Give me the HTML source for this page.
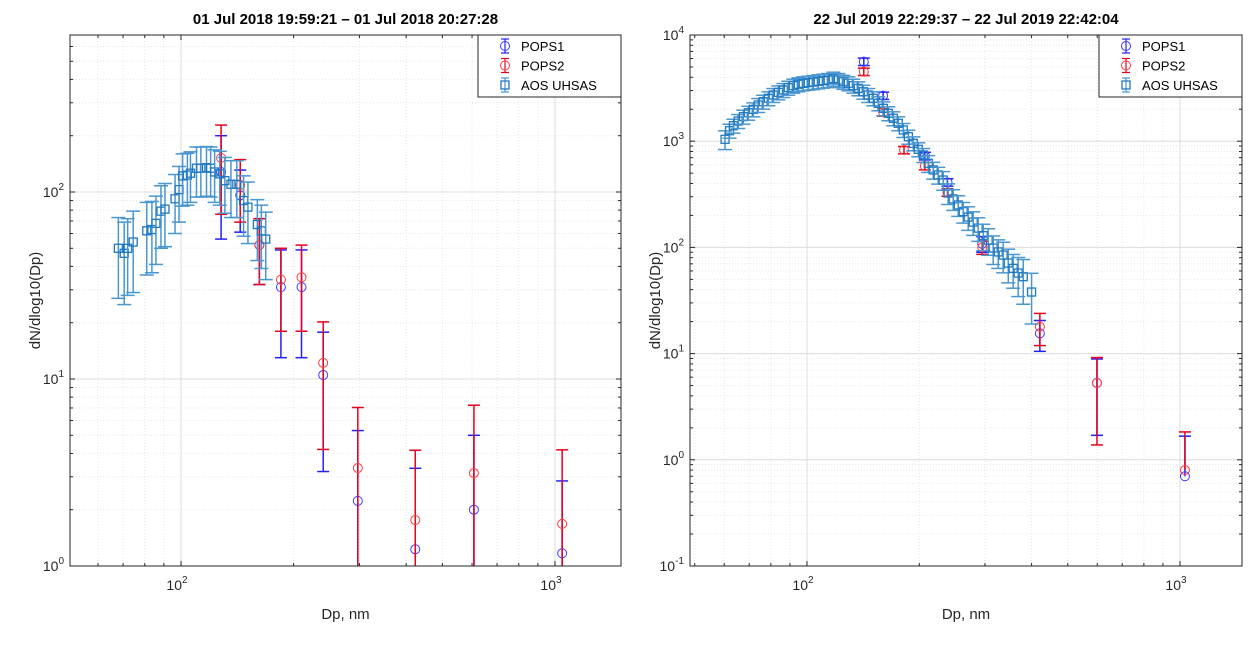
<!DOCTYPE html>
<html><head><meta charset="utf-8">
<style>
body{margin:0;background:#fff;width:1260px;height:640px;overflow:hidden;font-family:"Liberation Sans",sans-serif;}
svg text{font-family:"Liberation Sans",sans-serif;}
</style></head>
<body>
<svg id="fig" width="1260" height="640" viewBox="0 0 1260 640" xmlns="http://www.w3.org/2000/svg"></svg>
<script>
// ---- Left panel data ----
const L_pops1_dp = [128,144,162,185,210,240,297,423,607,1045];
const L_pops1_y  = [128,96,52,31,31,10.5,2.23,1.23,2.0,1.17];
const L_pops1_s  = [72,35,20,18,18,7.3,3.07,2.1,3.0,1.68];
const L_pops2_dp = [128,144,162,185,210,240,297,423,607,1045];
const L_pops2_y  = [152,109,52,34,35,12.2,3.34,1.76,3.14,1.68];
const L_pops2_s  = [76,40,20,16,17,8,3.7,2.4,4.1,2.5];
const L_uh_dp = [68,70.5,72,74.5,81,83.6,85.7,88.4,90.6,96.4,98.8,101,104,106,110,113,117,120,123,127,131,136,141,147,151,160,164,168.5];
const L_uh_y  = [50,47,50,54,62,63,68,79,81,92,103,122,123,126,134,134,135,134,128,125,115,110,110,90,83,67,62,56];
const L_uh_s  = [23,22,22,25,26,26,27,29,30,32,34,38,38,38,40,40,40,40,40,40,38,37,37,32,30,24,23,22];
// ---- Right panel data ----
const R_pops1_dp = [142,160,207,238,295,421,599,1031];
const R_pops1_y  = [5610,2685,726,410,108,15.5,5.3,0.70];
const R_pops1_s  = [450,210,60,33,18,5,3.6,0.97];
const R_pops1_lo = [450,210,60,33,18,5,3.6,0];
const R_pops2_dp = [142,182,160,207,238,295,421,599,1031];
const R_pops2_y  = [4515,826,1871,584,330,100,17.9,5.28,0.80];
const R_pops2_s  = [360,65,150,47,27,14,6,3.9,1.03];
const R_pops2_lo = [360,65,150,47,27,14,6,3.9,0];
const R_uh_dp = [60.3,62.0,63.5,65.4,67.5,69.6,71.8,74.0,76.3,78.8,81.2,83.8,86.4,89.1,91.9,94.8,97.7,100.8,104,107.2,110.6,114,117.7,121.4,125.1,129.1,133.1,137.3,141.6,146,150.6,155.3,160.2,165.2,170.4,175.7,181.2,187,192.8,198.8,205,211.4,218,224.8,231.8,239,246.6,254.4,262.3,270.5,279,287.7,296.9,306,315.6,325.6,335.7,346.4,357.1,368.3,380,400];
const R_uh_y  = [1042,1256,1400,1549,1702,1854,1995,2193,2355,2535,2723,2884,3034,3190,3334,3436,3508,3556,3606,3664,3715,3767,3881,3767,3631,3508,3334,3148,2924,2723,2535,2275,2040,1832,1644,1475,1275,1102,955,839,741,620,536,481,431,325,286,251,217,193,173,152,129,117,98.6,90.6,84.7,71.3,63.5,57.4,53,38];
const R_uh_rel = [0.2,0.15,0.15,0.15,0.15,0.15,0.15,0.15,0.15,0.15,0.15,0.15,0.15,0.15,0.15,0.15,0.15,0.15,0.15,0.15,0.15,0.15,0.15,0.15,0.15,0.15,0.15,0.15,0.15,0.15,0.15,0.15,0.15,0.15,0.15,0.15,0.15,0.15,0.15,0.15,0.15,0.18,0.18,0.18,0.2,0.22,0.22,0.22,0.22,0.25,0.25,0.25,0.28,0.28,0.3,0.3,0.32,0.35,0.35,0.4,0.45,0.5];

const NS="http://www.w3.org/2000/svg";
const svg=document.getElementById('fig');
function el(tag,attrs,parent){const e=document.createElementNS(NS,tag);for(const k in attrs)e.setAttribute(k,attrs[k]);(parent||svg).appendChild(e);return e;}

function panel(cfg){
  const g=el('g',{});
  
  
  const {x0,x1,y0,y1,xmin,xmax,ymin,ymax}=cfg;
  const sx=v=>x0+(Math.log10(v)-Math.log10(xmin))/(Math.log10(xmax)-Math.log10(xmin))*(x1-x0);
  const sy=v=>y1-(Math.log10(v)-Math.log10(ymin))/(Math.log10(ymax)-Math.log10(ymin))*(y1-y0);
  el('rect',{x:x0,y:y0,width:x1-x0,height:y1-y0,fill:'#fff'},g);
  const cid='clip'+cfg.name;
  const cp=el('clipPath',{id:cid},g);el('rect',{x:x0,y:y0,width:x1-x0,height:y1-y0},cp);
  const grid=el('g',{},g);
  
  
  for(let d=Math.floor(Math.log10(xmin));d<=Math.ceil(Math.log10(xmax));d++){
    for(let m=1;m<10;m++){const v=m*Math.pow(10,d);if(v<=xmin||v>=xmax)continue;const px=sx(v);
      if(m===1){el('line',{x1:px,y1:y0,x2:px,y2:y1,stroke:'#dcdcdc','stroke-width':1},grid);}
      else el('line',{x1:px,y1:y0,x2:px,y2:y1,stroke:'#e6e6e6','stroke-width':1,'stroke-dasharray':'1,2'},grid);}
  }
  const dmin=Math.round(Math.log10(ymin)), dmax=Math.floor(Math.log10(ymax)+1e-9);
  for(let d=dmin;d<=dmax+1;d++){
    for(let m=1;m<10;m++){const v=m*Math.pow(10,d);if(v<ymin*0.999||v>ymax*1.001)continue;const py=sy(v);
      if(m===1){el('line',{x1:x0,y1:py,x2:x1,y2:py,stroke:'#dcdcdc','stroke-width':1},grid);}
      else el('line',{x1:x0,y1:py,x2:x1,y2:py,stroke:'#e6e6e6','stroke-width':1,'stroke-dasharray':'1,2'},grid);}
  }
  for(let d=dmin;d<=dmax+1;d++){
    for(let m=1;m<10;m++){const v=m*Math.pow(10,d);if(v<ymin*0.999||v>ymax*1.001)continue;const py=sy(v);const len=m===1?5:3;
      el('line',{x1:x0,y1:py,x2:x0+len,y2:py,stroke:'#262626'},g);el('line',{x1:x1,y1:py,x2:x1-len,y2:py,stroke:'#262626'},g);}
    if(d>dmax)continue;
    const py=sy(Math.pow(10,d));
    const t=el('text',{x:x0-6,y:py+5,'font-size':14,fill:'#262626','text-anchor':'end'},g);
    
    
    t.textContent='10';
    const sup=el('tspan',{dy:-7,'font-size':10},t);sup.textContent=String(d);
  }
  for(let d=1;d<=3;d++){
    for(let m=1;m<10;m++){const v=m*Math.pow(10,d);if(v<=xmin||v>=xmax)continue;const px=sx(v);const len=m===1?5:3;
      el('line',{x1:px,y1:y1,x2:px,y2:y1-len,stroke:'#262626'},g);el('line',{x1:px,y1:y0,x2:px,y2:y0+len,stroke:'#262626'},g);}
    const v=Math.pow(10,d);if(v<=xmin||v>=xmax)continue;
    const t=el('text',{x:sx(v)-4,y:y1+24,'font-size':14,fill:'#262626','text-anchor':'middle'},g);
    
    
    t.textContent='10';
    const sup=el('tspan',{dy:-7,'font-size':10},t);sup.textContent=String(d);
  }
  const plot=el('g',{'clip-path':'url(#'+cid+')'},g);
  function series(name,dp,y,s,lo,color,barColor,marker,cap){
    const sg=el('g',{},plot);
    
    
    for(let i=0;i<dp.length;i++){
      const px=sx(dp[i]),py=sy(y[i]);
      const top=sy(y[i]+s[i]);const sl=lo?lo[i]:s[i];const low=y[i]-sl;const bot=low>0?sy(low):y1+20;
      el('line',{x1:px,y1:top,x2:px,y2:bot,stroke:barColor,'stroke-width':1.5},sg);
      el('line',{x1:px-cap,y1:top,x2:px+cap,y2:top,stroke:barColor,'stroke-width':1.5},sg);
      if(sl>0)el('line',{x1:px-cap,y1:bot,x2:px+cap,y2:bot,stroke:barColor,'stroke-width':1.5},sg);
      let m;
      if(marker==='o')m=el('circle',{cx:px,cy:py,r:4.5,fill:'none',stroke:color,'stroke-width':1},sg);
      else m=el('rect',{x:px-4,y:py-4,width:8,height:8,fill:'none',stroke:color,'stroke-width':1.3},sg);
      
      
    }
  }
  series('pops1-series',cfg.p1dp,cfg.p1y,cfg.p1s,cfg.p1lo,'#3a3aff','#2020ff','o',6);
  series('pops2-series',cfg.p2dp,cfg.p2y,cfg.p2s,cfg.p2lo,'#ff3a3a','#e8001c','o',6);
  series('uhsas-series',cfg.udp,cfg.uy,cfg.us,null,'#1f78c0','#4a96cf','s',7);
  el('rect',{x:x0,y:y0,width:x1-x0,height:y1-y0,fill:'none',stroke:'#262626','stroke-width':1},g);
  const tt=el('text',{x:(x0+x1)/2,y:y0-11,'font-size':15,'font-weight':'bold','text-anchor':'middle',fill:'#000'},g);
  
  
  tt.textContent=cfg.title;
  const xl=el('text',{x:(x0+x1)/2,y:y1+53,'font-size':15,'text-anchor':'middle',fill:'#262626'},g);
  
  
  xl.textContent='Dp, nm';
  const yl=el('text',{x:0,y:0,'font-size':15,'text-anchor':'middle',fill:'#262626',transform:'translate('+(x0-30)+','+((y0+y1)/2)+') rotate(-90)'},g);
  
  
  yl.textContent='dN/dlog10(Dp)';
  const lg=el('g',{},g);
  
  
  const lx=x1-143,ly=y0;
  el('rect',{x:lx,y:ly,width:143,height:62,fill:'#fff',stroke:'#262626','stroke-width':1},lg);
  const ents=[['POPS1','#3a3aff','#2020ff','o'],['POPS2','#ff3a3a','#e8001c','o'],['AOS UHSAS','#1f78c0','#4a96cf','s']];
  ents.forEach((e,i)=>{
    const cy=ly+11+i*19.5,cx=lx+27;
    const eg=el('g',{},lg);
    
    
    el('line',{x1:cx,y1:cy-7,x2:cx,y2:cy+7,stroke:e[2],'stroke-width':1.2},eg);
    el('line',{x1:cx-4,y1:cy-7,x2:cx+4,y2:cy-7,stroke:e[2],'stroke-width':1.2},eg);
    el('line',{x1:cx-4,y1:cy+7,x2:cx+4,y2:cy+7,stroke:e[2],'stroke-width':1.2},eg);
    if(e[3]==='o')el('circle',{cx:cx,cy:cy,r:4.5,fill:'none',stroke:e[1]},eg);
    else el('rect',{x:cx-4,y:cy-4,width:8,height:8,fill:'none',stroke:e[1],'stroke-width':1.3},eg);
    const t=el('text',{x:lx+43,y:cy+5,'font-size':13,fill:'#000'},eg);t.textContent=e[0];
  });
}
panel({name:'left-chart',x0:70,x1:621,y0:35,y1:566,xmin:Math.pow(10,2-111/374),xmax:Math.pow(10,2+440/374),ymin:1,ymax:Math.pow(10,531/187),
  title:'01 Jul 2018 19:59:21 \u2013 01 Jul 2018 20:27:28',
  p1dp:L_pops1_dp,p1y:L_pops1_y,p1s:L_pops1_s,p1lo:null,p2dp:L_pops2_dp,p2y:L_pops2_y,p2s:L_pops2_s,p2lo:null,udp:L_uh_dp,uy:L_uh_y,us:L_uh_s});
const R_uh_s=R_uh_y.map((v,i)=>v*R_uh_rel[i]);
panel({name:'right-chart',x0:690,x1:1242,y0:35,y1:566,xmin:Math.pow(10,2-117/373),xmax:Math.pow(10,2+435/373),ymin:0.1,ymax:10000,
  title:'22 Jul 2019 22:29:37 \u2013 22 Jul 2019 22:42:04',
  p1dp:R_pops1_dp,p1y:R_pops1_y,p1s:R_pops1_s,p1lo:R_pops1_lo,p2dp:R_pops2_dp,p2y:R_pops2_y,p2s:R_pops2_s,p2lo:R_pops2_lo,udp:R_uh_dp,uy:R_uh_y,us:R_uh_s});
</script>
</body></html>
